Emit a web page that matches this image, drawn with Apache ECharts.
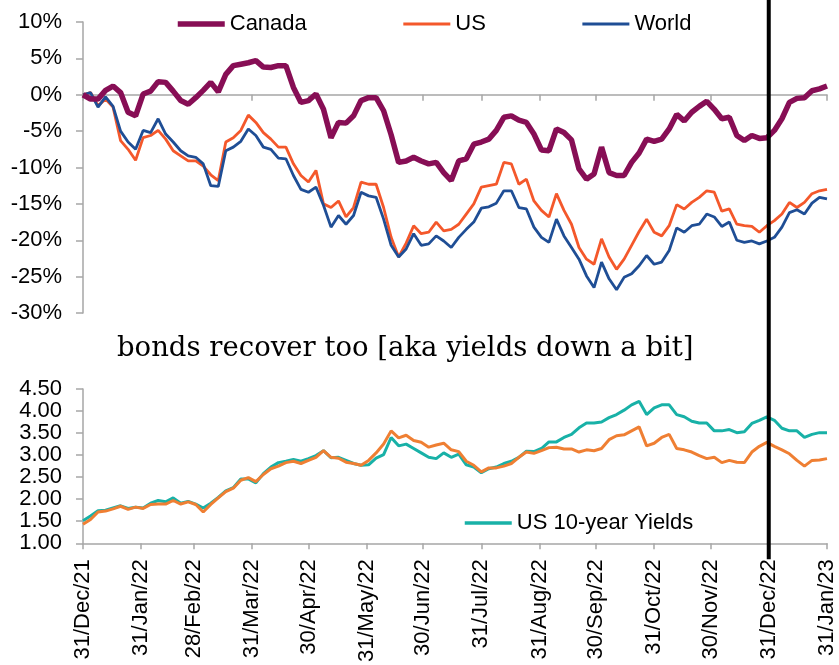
<!DOCTYPE html>
<html>
<head>
<meta charset="utf-8">
<script src="https://cdn.jsdelivr.net/npm/echarts@6/dist/echarts.min.js"></script>
<style>
  html, body { margin: 0; padding: 0; background: #fff; }
  #chart { width: 839px; height: 665px; }
</style>
</head>
<body>
<div id="chart"></div>
<script>
// Daily calendar axis, values sampled every 4 days from the start date
const START_DATE = '2021-12-31';
const END_DATE = '2023-01-31';
const SAMPLE_STEP_DAYS = 4;
const MARKER_DATE = '2022-12-31';
const MONTH_NAMES = ['Jan','Feb','Mar','Apr','May','Jun','Jul','Aug','Sep','Oct','Nov','Dec'];

// Equity returns since 31/Dec/21 (%)
const canada = [
  0.0, -0.6, -0.6, 0.6, 1.2, 0.3, -2.4, -2.9, 0.1, 0.5,
  1.8, 1.7, 0.5, -0.8, -1.3, -0.4, 0.6, 1.7, 0.4, 2.8,
  4.0, 4.2, 4.4, 4.7, 3.8, 3.75, 4.0, 4.0, 1.0, -1.05,
  -0.8, 0.1, -2.0, -5.9, -3.8, -3.9, -2.9, -0.8, -0.4, -0.4,
  -2.2, -5.5, -9.3, -9.1, -8.6, -9.1, -9.5, -9.3, -10.7, -11.8,
  -9.1, -8.8, -6.8, -6.5, -6.1, -4.9, -3.1, -2.9, -3.5, -3.8,
  -5.4, -7.6, -7.7, -4.7, -5.2, -6.2, -10.2, -11.6, -10.9, -7.2,
  -10.7, -11.1, -11.1, -9.3, -8.0, -6.1, -6.4, -6.1, -4.7, -2.7,
  -3.6, -2.4, -1.6, -0.9, -2.0, -3.3, -3.1, -5.6, -6.3, -5.6,
  -6.0, -5.9, -4.9, -3.3, -1.05, -0.5, -0.4, 0.55, 0.8, 1.2
];
const us = [
  0.0, 0.3, -1.5, -0.6, -1.7, -6.3, -7.5, -9.0, -5.9, -5.6,
  -4.9, -6.1, -7.7, -8.4, -9.1, -9.1, -9.8, -11.0, -11.8, -6.5,
  -5.9, -4.9, -2.8, -3.8, -5.2, -6.1, -7.2, -7.2, -9.5, -11.1,
  -12.0, -10.4, -15.0, -15.5, -14.6, -16.8, -15.5, -12.0, -12.3, -12.3,
  -15.5, -19.6, -22.3, -20.4, -18.0, -19.1, -18.9, -17.5, -18.7, -18.5,
  -17.8, -16.4, -15.0, -12.7, -12.5, -12.3, -9.3, -9.5, -12.3, -11.6,
  -14.6, -15.9, -16.8, -13.6, -15.9, -17.8, -21.0, -22.6, -23.3, -19.8,
  -22.3, -24.0, -22.6, -20.7, -18.8, -17.1, -18.9, -19.4, -18.0, -15.1,
  -15.7, -14.8, -14.1, -13.2, -13.4, -16.0, -15.7, -17.8, -18.0, -18.1,
  -18.9, -18.0, -17.3, -16.4, -14.8, -15.5, -14.8, -13.6, -13.2, -13.0
];
const world = [
  0.0, 0.3, -1.7, -0.3, -1.6, -5.0, -6.5, -7.5, -4.9, -5.2,
  -3.3, -5.4, -6.5, -7.7, -8.4, -8.6, -9.5, -12.5, -12.6, -7.7,
  -7.2, -6.4, -4.7, -5.6, -7.2, -7.5, -8.7, -8.8, -11.1, -13.0,
  -13.4, -12.7, -15.2, -18.2, -16.6, -17.8, -16.6, -13.4, -13.9, -14.1,
  -17.1, -20.7, -22.3, -21.2, -19.1, -20.7, -20.5, -19.4, -20.1, -21.0,
  -19.6, -18.5, -17.5, -15.6, -15.4, -14.9, -13.2, -13.2, -15.5, -15.7,
  -18.2, -19.6, -20.3, -17.1, -19.4, -21.0, -22.6, -24.9, -26.5, -23.0,
  -25.3, -26.8, -25.1, -24.6, -23.5, -22.1, -23.3, -23.0, -21.4, -18.3,
  -18.9, -18.0, -17.8, -16.4, -16.8, -18.1, -17.5, -20.0, -20.3, -20.1,
  -20.5, -20.1, -19.6, -18.2, -16.2, -15.8, -16.4, -14.9, -14.1, -14.3
];

// 10-year government bond yields (%)
const us10y = [
  1.51, 1.62, 1.74, 1.75, 1.80, 1.85, 1.79, 1.82, 1.80, 1.91,
  1.97, 1.94, 2.03, 1.91, 1.95, 1.89, 1.80, 1.91, 2.04, 2.19,
  2.26, 2.46, 2.46, 2.37, 2.58, 2.73, 2.83, 2.86, 2.90, 2.86,
  2.92, 2.99, 3.10, 2.94, 2.95, 2.88, 2.81, 2.77, 2.78, 2.93,
  3.01, 3.40, 3.21, 3.25, 3.15, 3.05, 2.95, 2.92, 3.05, 2.95,
  3.02, 2.78, 2.73, 2.60, 2.69, 2.73, 2.81, 2.86, 2.95, 3.09,
  3.08, 3.15, 3.30, 3.30, 3.40, 3.47, 3.62, 3.73, 3.73, 3.75,
  3.85, 3.92, 4.02, 4.14, 4.22, 3.92, 4.07, 4.14, 4.14, 3.92,
  3.87, 3.77, 3.73, 3.73, 3.55, 3.55, 3.58, 3.51, 3.53, 3.72,
  3.79, 3.87, 3.79, 3.61, 3.55, 3.55, 3.40, 3.47, 3.51, 3.51
];
const canada10y = [
  1.43, 1.54, 1.71, 1.73, 1.78, 1.84, 1.77, 1.82, 1.79, 1.88,
  1.89, 1.89, 1.97, 1.89, 1.94, 1.88, 1.71, 1.88, 2.03, 2.17,
  2.25, 2.43, 2.49, 2.40, 2.56, 2.69, 2.75, 2.83, 2.86, 2.81,
  2.88, 2.95, 3.10, 2.95, 2.93, 2.84, 2.81, 2.77, 2.88, 3.05,
  3.25, 3.55, 3.39, 3.45, 3.33, 3.29, 3.18, 3.23, 3.27, 3.12,
  3.08, 2.86, 2.77, 2.62, 2.71, 2.71, 2.75, 2.81, 2.95, 3.07,
  3.04, 3.10, 3.17, 3.18, 3.14, 3.14, 3.07, 3.12, 3.10, 3.15,
  3.35, 3.44, 3.46, 3.55, 3.64, 3.21, 3.27, 3.40, 3.47, 3.15,
  3.12, 3.07, 2.99, 2.92, 2.95, 2.83, 2.88, 2.84, 2.83, 3.07,
  3.20, 3.29, 3.20, 3.12, 3.03, 2.88, 2.75, 2.88, 2.89, 2.92
];

// Axis ranges
const returnAxis = { min: -30, max: 10, interval: 5 };
const yieldAxis = { min: 1.0, max: 4.5, interval: 0.5 };

const COLORS = {
  canada: '#870E55',
  us: '#F4582B',
  world: '#1F4E95',
  us10y: '#18B1A7',
  canada10y: '#EF7F33',
  axis: '#A6A6A6',
  text: '#000000'
};

const DAY_MS = 86400000;
function parseISO(s) { const p = s.split('-').map(Number); return Date.UTC(p[0], p[1] - 1, p[2]); }
function toISO(t) { return new Date(t).toISOString().slice(0, 10); }
function isMonthEnd(s) { return new Date(parseISO(s) + DAY_MS).getUTCDate() === 1; }
function formatDay(s) {
  const d = new Date(parseISO(s));
  return d.getUTCDate() + '/' + MONTH_NAMES[d.getUTCMonth()] + '/' + String(d.getUTCFullYear()).slice(2);
}

const days = [];
for (let t = parseISO(START_DATE); t <= parseISO(END_DATE); t += DAY_MS) days.push(toISO(t));
const sampleDates = canada.map((_, i) => toISO(parseISO(START_DATE) + i * SAMPLE_STEP_DAYS * DAY_MS));
const pairs = (vals) => vals.map((v, i) => [sampleDates[i], v]);

const FONT = 'Liberation Sans';
const monthEndOnly = (idx, val) => isMonthEnd(val);

const chart = echarts.init(document.getElementById('chart'), null, { renderer: 'canvas' });

const option = {
  animation: false,
  backgroundColor: '#fff',
  title: {
    text: 'bonds recover too [aka yields down a bit]',
    left: 117,
    top: 335,
    padding: 0,
    textStyle: { fontFamily: 'DejaVu Serif', fontSize: 27.5, fontWeight: 'normal', color: COLORS.text }
  },
  legend: [
    {
      left: 175, top: 13, padding: 0,
      itemWidth: 47, itemHeight: 14, itemGap: 95,
      itemStyle: { opacity: 0 },
      textStyle: { fontFamily: FONT, fontSize: 22, color: COLORS.text },
      data: [
        { name: 'Canada', lineStyle: { width: 5.5 } },
        { name: 'US', lineStyle: { width: 3 } },
        { name: 'World', lineStyle: { width: 3 } }
      ]
    },
    {
      left: 463, top: 512, padding: 0,
      itemWidth: 47, itemHeight: 14,
      itemStyle: { opacity: 0 },
      textStyle: { fontFamily: FONT, fontSize: 22, color: COLORS.text },
      data: [{ name: 'US 10-year Yields', lineStyle: { width: 3.5 } }]
    }
  ],
  grid: [
    { left: 83, right: 12, top: 22, height: 291 },
    { left: 83, right: 12, top: 389, height: 157 }
  ],
  xAxis: [
    {
      gridIndex: 0, type: 'category', data: days, boundaryGap: false,
      axisLine: { onZero: true, lineStyle: { color: COLORS.axis, width: 1.5 } },
      axisTick: { interval: monthEndOnly, length: 6, lineStyle: { color: COLORS.axis, width: 1.5 } },
      axisLabel: { show: false },
      splitLine: { show: false }
    },
    {
      gridIndex: 1, type: 'category', data: days, boundaryGap: false,
      axisLine: { lineStyle: { color: COLORS.axis, width: 1.5 } },
      axisTick: { interval: monthEndOnly, length: 6, lineStyle: { color: COLORS.axis, width: 1.5 } },
      axisLabel: {
        interval: monthEndOnly, rotate: 90, margin: 16,
        formatter: formatDay,
        fontFamily: FONT, fontSize: 22, color: COLORS.text
      },
      splitLine: { show: false }
    }
  ],
  yAxis: [
    {
      gridIndex: 0, type: 'value',
      min: returnAxis.min, max: returnAxis.max, interval: returnAxis.interval,
      axisLine: { show: true, lineStyle: { color: COLORS.axis, width: 1.5 } },
      axisTick: { show: true, length: 7, lineStyle: { color: COLORS.axis, width: 1.5 } },
      splitLine: { show: false },
      axisLabel: { formatter: v => v + '%', fontFamily: FONT, fontSize: 22, color: COLORS.text, margin: 21 }
    },
    {
      gridIndex: 1, type: 'value',
      min: yieldAxis.min, max: yieldAxis.max, interval: yieldAxis.interval,
      axisLine: { show: true, lineStyle: { color: COLORS.axis, width: 1.5 } },
      axisTick: { show: true, length: 7, lineStyle: { color: COLORS.axis, width: 1.5 } },
      splitLine: { show: false },
      axisLabel: { formatter: v => v.toFixed(2), fontFamily: FONT, fontSize: 22, color: COLORS.text, margin: 21 }
    }
  ],
  series: [
    {
      name: 'Canada', type: 'line', xAxisIndex: 0, yAxisIndex: 0,
      data: pairs(canada), symbol: 'none', color: COLORS.canada,
      lineStyle: { width: 5.5, color: COLORS.canada }, z: 3
    },
    {
      name: 'US', type: 'line', xAxisIndex: 0, yAxisIndex: 0,
      data: pairs(us), symbol: 'none', color: COLORS.us,
      lineStyle: { width: 2.8, color: COLORS.us }, z: 2
    },
    {
      name: 'World', type: 'line', xAxisIndex: 0, yAxisIndex: 0,
      data: pairs(world), symbol: 'none', color: COLORS.world,
      lineStyle: { width: 2.8, color: COLORS.world }, z: 2
    },
    {
      name: 'US 10-year Yields', type: 'line', xAxisIndex: 1, yAxisIndex: 1,
      data: pairs(us10y), symbol: 'none', color: COLORS.us10y,
      lineStyle: { width: 3, color: COLORS.us10y }, z: 2
    },
    {
      name: 'Canada 10-year Yields', type: 'line', xAxisIndex: 1, yAxisIndex: 1,
      data: pairs(canada10y), symbol: 'none', color: COLORS.canada10y,
      lineStyle: { width: 3, color: COLORS.canada10y }, z: 3
    }
  ]
};

chart.setOption(option);

// Year-end marker spanning both panels
const markerIdx = days.indexOf(MARKER_DATE);
const markerX = chart.convertToPixel({ xAxisIndex: 1 }, markerIdx);
const axisBottomY = chart.convertToPixel({ yAxisIndex: 1 }, yieldAxis.min);
chart.setOption({
  graphic: [{
    type: 'line', z: 100, silent: true,
    shape: { x1: markerX, y1: 0, x2: markerX, y2: axisBottomY + 16 },
    style: { stroke: '#000', lineWidth: 4 }
  }]
});
</script>
</body>
</html>
